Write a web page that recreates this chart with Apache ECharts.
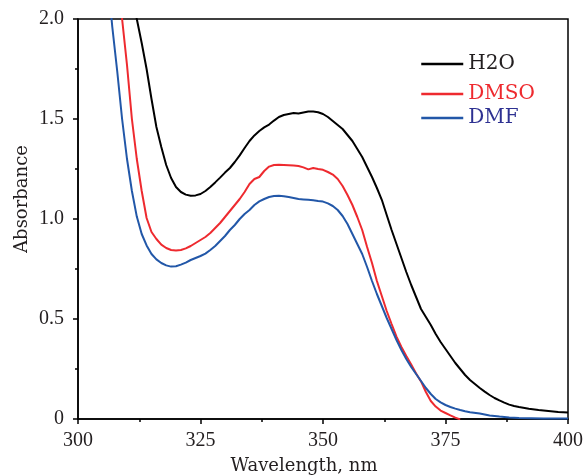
<!DOCTYPE html>
<html>
<head>
<meta charset="utf-8">
<script src="https://cdn.jsdelivr.net/npm/echarts@6/dist/echarts.min.js"></script>
<style>
html,body{margin:0;padding:0;background:#fff;}
#chart{width:586px;height:476px;}
</style>
</head>
<body>
<div id="chart"></div>
<script>
// Wavelength (nm) and absorbance for each solvent
var h2oWl = [311,312,313,314,315,316,317,318,319,320,321,322,323,324,325,326,327,328,329,330,331,332,333,334,335,336,337,338,339,340,341,342,343,344,345,346,347,348,349,350,351,352,353,354,355,356,357,358,359,360,361,362,363,364,365,366,367,368,369,370,371,372,373,374,375,376,377,378,379,380,381,382,383,384,385,386,387,388,389,390,392,394,396,398,400];
var h2oAbs = [2.13,2.0,1.88,1.75,1.6,1.46,1.36,1.27,1.205,1.16,1.135,1.122,1.116,1.118,1.125,1.14,1.16,1.183,1.207,1.232,1.255,1.285,1.318,1.355,1.39,1.418,1.44,1.458,1.472,1.492,1.51,1.52,1.525,1.53,1.528,1.533,1.538,1.537,1.534,1.525,1.51,1.49,1.47,1.45,1.42,1.39,1.35,1.31,1.26,1.21,1.155,1.096,1.02,0.945,0.875,0.805,0.735,0.67,0.61,0.55,0.51,0.47,0.425,0.385,0.35,0.315,0.28,0.25,0.22,0.195,0.175,0.155,0.137,0.12,0.105,0.093,0.082,0.072,0.065,0.06,0.051,0.045,0.04,0.035,0.032];

var dmsoWl = [308,309,310,311,312,313,314,315,316,317,318,319,320,321,322,323,324,325,326,327,328,329,330,331,332,333,334,335,336,337,338,339,340,341,342,343,344,345,346,347,348,349,350,351,352,353,354,355,356,357,358,359,360,361,362,363,364,365,366,367,368,369,370,371,372,373,374,375,376,377,378];
var dmsoAbs = [2.25,2.0,1.77,1.5,1.3,1.14,1.005,0.935,0.9,0.872,0.855,0.845,0.842,0.845,0.853,0.865,0.88,0.895,0.91,0.93,0.955,0.98,1.01,1.04,1.07,1.1,1.135,1.175,1.2,1.21,1.24,1.262,1.27,1.271,1.27,1.269,1.267,1.265,1.258,1.248,1.255,1.25,1.246,1.235,1.222,1.2,1.165,1.12,1.07,1.01,0.945,0.86,0.78,0.69,0.615,0.54,0.475,0.412,0.36,0.315,0.272,0.228,0.188,0.135,0.09,0.062,0.042,0.03,0.018,0.007,-0.002];

var dmfWl = [306,307,308,309,310,311,312,313,314,315,316,317,318,319,320,321,322,323,324,325,326,327,328,329,330,331,332,333,334,335,336,337,338,339,340,341,342,343,344,345,346,347,348,349,350,351,352,353,354,355,356,357,358,359,360,361,362,363,364,365,366,367,368,369,370,371,372,373,374,375,376,377,378,379,380,382,384,386,388,390,395,400];
var dmfAbs = [2.22,1.96,1.74,1.5,1.3,1.14,1.012,0.925,0.868,0.825,0.798,0.78,0.768,0.762,0.764,0.772,0.782,0.795,0.805,0.815,0.827,0.845,0.865,0.89,0.915,0.945,0.97,1.0,1.025,1.045,1.07,1.088,1.1,1.11,1.115,1.116,1.114,1.11,1.105,1.1,1.098,1.096,1.094,1.09,1.087,1.078,1.065,1.045,1.015,0.975,0.925,0.875,0.825,0.76,0.69,0.625,0.565,0.505,0.45,0.395,0.345,0.3,0.26,0.225,0.19,0.155,0.125,0.1,0.083,0.07,0.06,0.052,0.045,0.039,0.034,0.027,0.018,0.012,0.008,0.005,0.003,0.002];

var seriesNames = ['H2O', 'DMSO', 'DMF'];
var xTicks = [300, 325, 350, 375, 400];
var yTicks = [0, 0.5, 1.0, 1.5, 2.0];

function pairs(xs, ys) {
  var out = [];
  for (var i = 0; i < xs.length; i++) out.push([xs[i], ys[i]]);
  return out;
}

var FONT = 'DejaVu Serif';
var TICKFONT = 'Liberation Serif';
var TXT = '#231f20';
var lineColors = ['#000000', '#ee2a2f', '#2257a8'];
var textColors = ['#231f20', '#ee2a2f', '#2e3192'];
var legendTops = [54, 84, 108];

var chart = echarts.init(document.getElementById('chart'), null, {renderer: 'canvas'});

var legends = seriesNames.map(function (n, i) {
  return {
    left: 420, top: legendTops[i], orient: 'vertical', padding: 0,
    itemWidth: 42, itemHeight: 20, itemGap: 0,
    data: [{name: n, textStyle: {color: textColors[i]}}],
    itemStyle: {opacity: 0},
    lineStyle: {width: 2.5},
    textStyle: {fontFamily: FONT, fontSize: 20, lineHeight: 20, padding: 0},
    selectedMode: false
  };
});

var option = {
  animation: false,
  backgroundColor: '#ffffff',
  grid: {left: 78, right: 18, top: 19, bottom: 57, show: true, borderColor: '#000', borderWidth: 1.5,
         backgroundColor: 'transparent', containLabel: false, outerBoundsMode: 'none'},
  legend: legends,
  xAxis: {
    type: 'value', min: xTicks[0], max: xTicks[xTicks.length - 1], interval: 25,
    name: 'Wavelength, nm', nameLocation: 'middle', nameGap: 38, nameMoveOverlap: false,
    nameTextStyle: {fontFamily: FONT, fontSize: 18, color: TXT, padding: [0, 38, 0, 0]},
    axisLine: {show: true, lineStyle: {color: '#000', width: 1.5}},
    axisTick: {show: true, inside: false, length: 5, lineStyle: {color: '#000', width: 1.5}},
    minorTick: {show: true, splitNumber: 2, length: 3, lineStyle: {color: '#000', width: 1.5}},
    axisLabel: {fontFamily: TICKFONT, fontSize: 20, color: TXT, margin: 12},
    splitLine: {show: false}
  },
  yAxis: {
    type: 'value', min: yTicks[0], max: yTicks[yTicks.length - 1], interval: 0.5,
    name: 'Absorbance', nameLocation: 'middle', nameGap: 47, nameRotate: 90, nameMoveOverlap: false,
    nameTextStyle: {fontFamily: FONT, fontSize: 18, color: TXT, padding: [0, 0, 0, 40]},
    axisLine: {show: true, lineStyle: {color: '#000', width: 1.5}},
    axisTick: {show: true, inside: false, length: 5, lineStyle: {color: '#000', width: 1.5}},
    minorTick: {show: true, splitNumber: 2, length: 3, lineStyle: {color: '#000', width: 1.5}},
    axisLabel: {fontFamily: TICKFONT, fontSize: 20, color: TXT, margin: 14,
      formatter: function (v) { return v === 0 ? '0' : v.toFixed(1); }},
    splitLine: {show: false}
  },
  series: [
    {name: seriesNames[0], type: 'line', data: pairs(h2oWl, h2oAbs), symbol: 'none', clip: true,
     lineStyle: {color: lineColors[0], width: 2}, itemStyle: {color: lineColors[0]}},
    {name: seriesNames[1], type: 'line', data: pairs(dmsoWl, dmsoAbs), symbol: 'none', clip: true,
     lineStyle: {color: lineColors[1], width: 2}, itemStyle: {color: lineColors[1]}},
    {name: seriesNames[2], type: 'line', data: pairs(dmfWl, dmfAbs), symbol: 'none', clip: true,
     lineStyle: {color: lineColors[2], width: 2}, itemStyle: {color: lineColors[2]}}
  ]
};
chart.setOption(option);
</script>
</body>
</html>
